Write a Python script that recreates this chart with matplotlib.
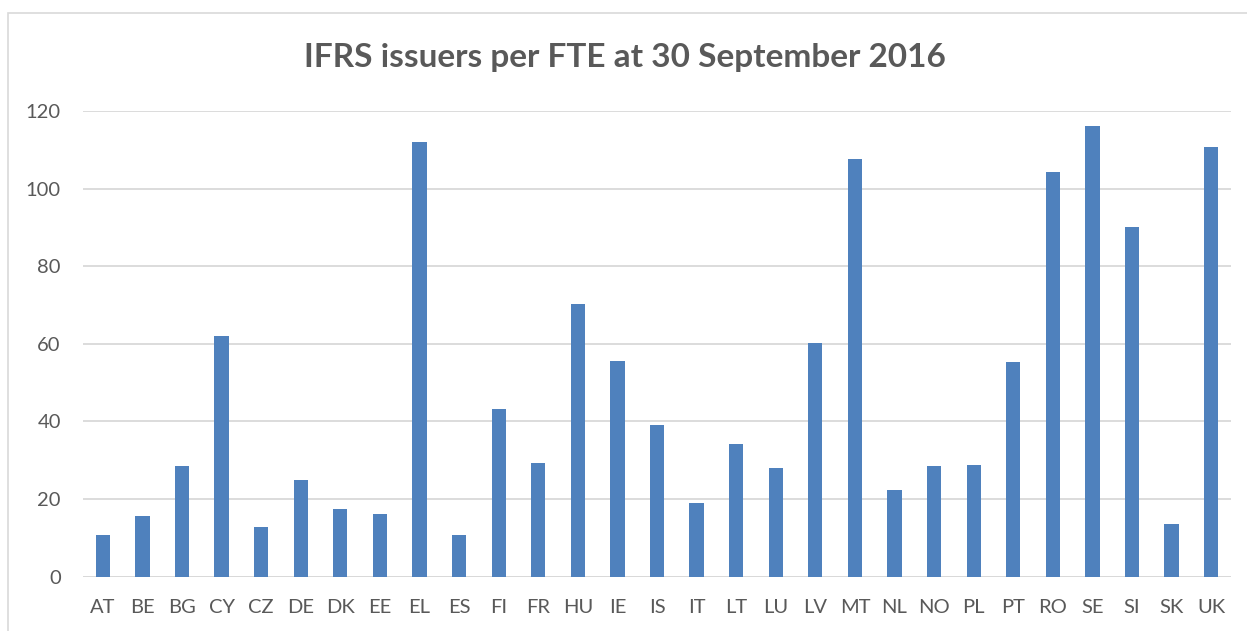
import matplotlib
matplotlib.use("Agg")
import matplotlib.pyplot as plt
from matplotlib.patches import Rectangle

countries = ["AT", "BE", "BG", "CY", "CZ", "DE", "DK", "EE", "EL", "ES",
             "FI", "FR", "HU", "IE", "IS", "IT", "LT", "LU", "LV", "MT",
             "NL", "NO", "PL", "PT", "RO", "SE", "SI", "SK", "UK"]
issuers_per_fte = [10.7, 15.6, 28.6, 62.1, 12.8, 24.9, 17.5, 16.2, 111.9, 10.7,
                   43.1, 29.3, 70.2, 55.6, 39.1, 19.0, 34.1, 27.9, 60.2, 107.7,
                   22.4, 28.5, 28.7, 55.4, 104.3, 116.1, 90.2, 13.6, 110.7]
yticks = [0, 20, 40, 60, 80, 100, 120]

TXT = "#595959"
plt.rcParams.update({"font.family": ["Lato", "DejaVu Sans"]})

W, H = 1247, 631
fig = plt.figure(figsize=(W / 100, H / 100), dpi=100)

# chart-area border (top and left visible)
fig.add_artist(Rectangle((8 / W, -0.01), 1.1, 1 - 13 / H + 0.01,
                         transform=fig.transFigure, fill=False,
                         edgecolor="#d9d9d9", lw=1.2))

ax = fig.add_axes([83 / W, 54.5 / H, (1231 - 83) / W, (576.5 - 111) / H])
x = range(len(countries))
ax.bar(x, issuers_per_fte, width=0.36, color="#4f81bd", zorder=3)

ax.set_xlim(-0.5, len(countries) - 0.5)
ax.set_ylim(0, 120)
ax.set_yticks(yticks)
ax.set_xticks(list(x))
ax.set_xticklabels(countries)
ax.yaxis.grid(True, color="#d9d9d9", lw=1.3, zorder=0)
for s in ax.spines.values():
    s.set_visible(False)
ax.axhline(0, color="#d9d9d9", lw=1.3, zorder=2)
ax.tick_params(length=0, labelsize=14.5, colors=TXT)
ax.tick_params(axis="x", pad=16)
ax.tick_params(axis="y", pad=16)

fig.text(0.501, 1 - 57 / H, "IFRS issuers per FTE at 30 September 2016",
         ha="center", va="center", fontsize=24, fontweight="bold", color=TXT)

fig.savefig("out.png", dpi=100)
